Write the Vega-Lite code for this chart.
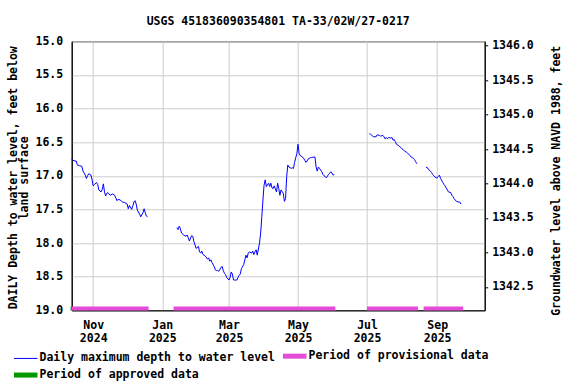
{
  "$schema": "https://vega.github.io/schema/vega-lite/v6.json",
  "width": 413,
  "height": 269,
  "autosize": {"type": "none"},
  "padding": {"left": 71.7, "top": 41.3, "right": 91.3, "bottom": 73.7},
  "background": "white",
  "title": {
    "text": "USGS 451836090354801 TA-33/02W/27-0217",
    "font": "DejaVu Sans Mono",
    "fontSize": 11.5,
    "fontWeight": "bold",
    "color": "black",
    "anchor": "middle",
    "offset": 8
  },
  "datasets": {
    "depth": [
      {"date": "2024-10-13", "depth": 16.745, "seg": 1},
      {"date": "2024-10-14", "depth": 16.77, "seg": 1},
      {"date": "2024-10-16", "depth": 16.78, "seg": 1},
      {"date": "2024-10-17", "depth": 16.78, "seg": 1},
      {"date": "2024-10-18", "depth": 16.84, "seg": 1},
      {"date": "2024-10-20", "depth": 16.85, "seg": 1},
      {"date": "2024-10-22", "depth": 16.86, "seg": 1},
      {"date": "2024-10-23", "depth": 16.93, "seg": 1},
      {"date": "2024-10-25", "depth": 16.99, "seg": 1},
      {"date": "2024-10-26", "depth": 17.04, "seg": 1},
      {"date": "2024-10-27", "depth": 17.0, "seg": 1},
      {"date": "2024-10-28", "depth": 16.97, "seg": 1},
      {"date": "2024-10-30", "depth": 16.99, "seg": 1},
      {"date": "2024-10-31", "depth": 17.06, "seg": 1},
      {"date": "2024-11-01", "depth": 17.15, "seg": 1},
      {"date": "2024-11-02", "depth": 17.13, "seg": 1},
      {"date": "2024-11-04", "depth": 17.1, "seg": 1},
      {"date": "2024-11-05", "depth": 17.13, "seg": 1},
      {"date": "2024-11-06", "depth": 17.21, "seg": 1},
      {"date": "2024-11-08", "depth": 17.24, "seg": 1},
      {"date": "2024-11-09", "depth": 17.2, "seg": 1},
      {"date": "2024-11-10", "depth": 17.12, "seg": 1},
      {"date": "2024-11-11", "depth": 17.24, "seg": 1},
      {"date": "2024-11-12", "depth": 17.3, "seg": 1},
      {"date": "2024-11-13", "depth": 17.26, "seg": 1},
      {"date": "2024-11-14", "depth": 17.25, "seg": 1},
      {"date": "2024-11-15", "depth": 17.27, "seg": 1},
      {"date": "2024-11-16", "depth": 17.29, "seg": 1},
      {"date": "2024-11-18", "depth": 17.27, "seg": 1},
      {"date": "2024-11-20", "depth": 17.29, "seg": 1},
      {"date": "2024-11-21", "depth": 17.33, "seg": 1},
      {"date": "2024-11-22", "depth": 17.37, "seg": 1},
      {"date": "2024-11-23", "depth": 17.35, "seg": 1},
      {"date": "2024-11-25", "depth": 17.36, "seg": 1},
      {"date": "2024-11-26", "depth": 17.38, "seg": 1},
      {"date": "2024-11-27", "depth": 17.39, "seg": 1},
      {"date": "2024-11-29", "depth": 17.4, "seg": 1},
      {"date": "2024-12-01", "depth": 17.42, "seg": 1},
      {"date": "2024-12-02", "depth": 17.49, "seg": 1},
      {"date": "2024-12-03", "depth": 17.44, "seg": 1},
      {"date": "2024-12-05", "depth": 17.5, "seg": 1},
      {"date": "2024-12-06", "depth": 17.45, "seg": 1},
      {"date": "2024-12-07", "depth": 17.39, "seg": 1},
      {"date": "2024-12-08", "depth": 17.37, "seg": 1},
      {"date": "2024-12-09", "depth": 17.42, "seg": 1},
      {"date": "2024-12-10", "depth": 17.51, "seg": 1},
      {"date": "2024-12-12", "depth": 17.57, "seg": 1},
      {"date": "2024-12-13", "depth": 17.61, "seg": 1},
      {"date": "2024-12-15", "depth": 17.55, "seg": 1},
      {"date": "2024-12-16", "depth": 17.49, "seg": 1},
      {"date": "2024-12-17", "depth": 17.55, "seg": 1},
      {"date": "2024-12-18", "depth": 17.6, "seg": 1},
      {"date": "2024-12-19", "depth": 17.61, "seg": 1},
      {"date": "2025-01-14", "depth": 17.77, "seg": 2},
      {"date": "2025-01-15", "depth": 17.8, "seg": 2},
      {"date": "2025-01-16", "depth": 17.75, "seg": 2},
      {"date": "2025-01-17", "depth": 17.78, "seg": 2},
      {"date": "2025-01-18", "depth": 17.85, "seg": 2},
      {"date": "2025-01-20", "depth": 17.88, "seg": 2},
      {"date": "2025-01-22", "depth": 17.9, "seg": 2},
      {"date": "2025-01-23", "depth": 17.88, "seg": 2},
      {"date": "2025-01-24", "depth": 17.92, "seg": 2},
      {"date": "2025-01-25", "depth": 17.97, "seg": 2},
      {"date": "2025-01-27", "depth": 17.89, "seg": 2},
      {"date": "2025-01-28", "depth": 17.9, "seg": 2},
      {"date": "2025-01-29", "depth": 17.98, "seg": 2},
      {"date": "2025-01-30", "depth": 18.03, "seg": 2},
      {"date": "2025-01-31", "depth": 18.08, "seg": 2},
      {"date": "2025-02-02", "depth": 18.05, "seg": 2},
      {"date": "2025-02-03", "depth": 18.13, "seg": 2},
      {"date": "2025-02-04", "depth": 18.15, "seg": 2},
      {"date": "2025-02-05", "depth": 18.12, "seg": 2},
      {"date": "2025-02-06", "depth": 18.17, "seg": 2},
      {"date": "2025-02-07", "depth": 18.18, "seg": 2},
      {"date": "2025-02-09", "depth": 18.21, "seg": 2},
      {"date": "2025-02-10", "depth": 18.24, "seg": 2},
      {"date": "2025-02-11", "depth": 18.22, "seg": 2},
      {"date": "2025-02-12", "depth": 18.27, "seg": 2},
      {"date": "2025-02-13", "depth": 18.25, "seg": 2},
      {"date": "2025-02-14", "depth": 18.29, "seg": 2},
      {"date": "2025-02-16", "depth": 18.35, "seg": 2},
      {"date": "2025-02-17", "depth": 18.4, "seg": 2},
      {"date": "2025-02-18", "depth": 18.41, "seg": 2},
      {"date": "2025-02-19", "depth": 18.41, "seg": 2},
      {"date": "2025-02-20", "depth": 18.42, "seg": 2},
      {"date": "2025-02-22", "depth": 18.36, "seg": 2},
      {"date": "2025-02-23", "depth": 18.35, "seg": 2},
      {"date": "2025-02-24", "depth": 18.41, "seg": 2},
      {"date": "2025-02-25", "depth": 18.45, "seg": 2},
      {"date": "2025-02-26", "depth": 18.47, "seg": 2},
      {"date": "2025-02-27", "depth": 18.51, "seg": 2},
      {"date": "2025-03-01", "depth": 18.55, "seg": 2},
      {"date": "2025-03-02", "depth": 18.51, "seg": 2},
      {"date": "2025-03-03", "depth": 18.43, "seg": 2},
      {"date": "2025-03-04", "depth": 18.46, "seg": 2},
      {"date": "2025-03-05", "depth": 18.55, "seg": 2},
      {"date": "2025-03-06", "depth": 18.55, "seg": 2},
      {"date": "2025-03-08", "depth": 18.55, "seg": 2},
      {"date": "2025-03-09", "depth": 18.51, "seg": 2},
      {"date": "2025-03-10", "depth": 18.48, "seg": 2},
      {"date": "2025-03-11", "depth": 18.46, "seg": 2},
      {"date": "2025-03-12", "depth": 18.38, "seg": 2},
      {"date": "2025-03-14", "depth": 18.32, "seg": 2},
      {"date": "2025-03-15", "depth": 18.25, "seg": 2},
      {"date": "2025-03-16", "depth": 18.18, "seg": 2},
      {"date": "2025-03-17", "depth": 18.22, "seg": 2},
      {"date": "2025-03-18", "depth": 18.15, "seg": 2},
      {"date": "2025-03-19", "depth": 18.13, "seg": 2},
      {"date": "2025-03-21", "depth": 18.15, "seg": 2},
      {"date": "2025-03-22", "depth": 18.12, "seg": 2},
      {"date": "2025-03-23", "depth": 18.17, "seg": 2},
      {"date": "2025-03-24", "depth": 18.13, "seg": 2},
      {"date": "2025-03-25", "depth": 18.1, "seg": 2},
      {"date": "2025-03-26", "depth": 18.18, "seg": 2},
      {"date": "2025-03-28", "depth": 18.0, "seg": 2},
      {"date": "2025-03-29", "depth": 17.85, "seg": 2},
      {"date": "2025-03-30", "depth": 17.62, "seg": 2},
      {"date": "2025-03-31", "depth": 17.36, "seg": 2},
      {"date": "2025-04-01", "depth": 17.14, "seg": 2},
      {"date": "2025-04-02", "depth": 17.06, "seg": 2},
      {"date": "2025-04-03", "depth": 17.16, "seg": 2},
      {"date": "2025-04-05", "depth": 17.11, "seg": 2},
      {"date": "2025-04-06", "depth": 17.16, "seg": 2},
      {"date": "2025-04-07", "depth": 17.11, "seg": 2},
      {"date": "2025-04-08", "depth": 17.18, "seg": 2},
      {"date": "2025-04-09", "depth": 17.19, "seg": 2},
      {"date": "2025-04-10", "depth": 17.15, "seg": 2},
      {"date": "2025-04-12", "depth": 17.24, "seg": 2},
      {"date": "2025-04-13", "depth": 17.11, "seg": 2},
      {"date": "2025-04-14", "depth": 17.19, "seg": 2},
      {"date": "2025-04-15", "depth": 17.29, "seg": 2},
      {"date": "2025-04-16", "depth": 17.21, "seg": 2},
      {"date": "2025-04-18", "depth": 17.26, "seg": 2},
      {"date": "2025-04-19", "depth": 17.38, "seg": 2},
      {"date": "2025-04-20", "depth": 17.34, "seg": 2},
      {"date": "2025-04-21", "depth": 17.01, "seg": 2},
      {"date": "2025-04-22", "depth": 16.84, "seg": 2},
      {"date": "2025-04-23", "depth": 16.87, "seg": 2},
      {"date": "2025-04-25", "depth": 16.89, "seg": 2},
      {"date": "2025-04-26", "depth": 16.88, "seg": 2},
      {"date": "2025-04-27", "depth": 16.89, "seg": 2},
      {"date": "2025-04-28", "depth": 16.8, "seg": 2},
      {"date": "2025-04-29", "depth": 16.73, "seg": 2},
      {"date": "2025-04-30", "depth": 16.67, "seg": 2},
      {"date": "2025-05-01", "depth": 16.53, "seg": 2},
      {"date": "2025-05-02", "depth": 16.67, "seg": 2},
      {"date": "2025-05-03", "depth": 16.7, "seg": 2},
      {"date": "2025-05-05", "depth": 16.72, "seg": 2},
      {"date": "2025-05-06", "depth": 16.74, "seg": 2},
      {"date": "2025-05-07", "depth": 16.77, "seg": 2},
      {"date": "2025-05-08", "depth": 16.8, "seg": 2},
      {"date": "2025-05-09", "depth": 16.78, "seg": 2},
      {"date": "2025-05-10", "depth": 16.75, "seg": 2},
      {"date": "2025-05-12", "depth": 16.73, "seg": 2},
      {"date": "2025-05-13", "depth": 16.73, "seg": 2},
      {"date": "2025-05-15", "depth": 16.72, "seg": 2},
      {"date": "2025-05-16", "depth": 16.72, "seg": 2},
      {"date": "2025-05-17", "depth": 16.87, "seg": 2},
      {"date": "2025-05-18", "depth": 16.93, "seg": 2},
      {"date": "2025-05-19", "depth": 16.87, "seg": 2},
      {"date": "2025-05-20", "depth": 16.89, "seg": 2},
      {"date": "2025-05-22", "depth": 16.94, "seg": 2},
      {"date": "2025-05-23", "depth": 16.98, "seg": 2},
      {"date": "2025-05-24", "depth": 17.0, "seg": 2},
      {"date": "2025-05-25", "depth": 17.01, "seg": 2},
      {"date": "2025-05-26", "depth": 17.03, "seg": 2},
      {"date": "2025-05-28", "depth": 16.98, "seg": 2},
      {"date": "2025-05-29", "depth": 16.96, "seg": 2},
      {"date": "2025-05-30", "depth": 16.94, "seg": 2},
      {"date": "2025-05-31", "depth": 16.96, "seg": 2},
      {"date": "2025-06-01", "depth": 16.99, "seg": 2},
      {"date": "2025-06-02", "depth": 16.98, "seg": 2},
      {"date": "2025-07-03", "depth": 16.375, "seg": 3},
      {"date": "2025-07-04", "depth": 16.38, "seg": 3},
      {"date": "2025-07-06", "depth": 16.41, "seg": 3},
      {"date": "2025-07-07", "depth": 16.42, "seg": 3},
      {"date": "2025-07-09", "depth": 16.42, "seg": 3},
      {"date": "2025-07-10", "depth": 16.39, "seg": 3},
      {"date": "2025-07-12", "depth": 16.4, "seg": 3},
      {"date": "2025-07-13", "depth": 16.41, "seg": 3},
      {"date": "2025-07-15", "depth": 16.4, "seg": 3},
      {"date": "2025-07-16", "depth": 16.42, "seg": 3},
      {"date": "2025-07-17", "depth": 16.45, "seg": 3},
      {"date": "2025-07-18", "depth": 16.43, "seg": 3},
      {"date": "2025-07-19", "depth": 16.45, "seg": 3},
      {"date": "2025-07-20", "depth": 16.43, "seg": 3},
      {"date": "2025-07-22", "depth": 16.44, "seg": 3},
      {"date": "2025-07-23", "depth": 16.43, "seg": 3},
      {"date": "2025-07-24", "depth": 16.47, "seg": 3},
      {"date": "2025-07-25", "depth": 16.46, "seg": 3},
      {"date": "2025-07-26", "depth": 16.49, "seg": 3},
      {"date": "2025-07-27", "depth": 16.53, "seg": 3},
      {"date": "2025-07-29", "depth": 16.55, "seg": 3},
      {"date": "2025-07-30", "depth": 16.57, "seg": 3},
      {"date": "2025-07-31", "depth": 16.58, "seg": 3},
      {"date": "2025-08-01", "depth": 16.6, "seg": 3},
      {"date": "2025-08-02", "depth": 16.61, "seg": 3},
      {"date": "2025-08-03", "depth": 16.63, "seg": 3},
      {"date": "2025-08-05", "depth": 16.65, "seg": 3},
      {"date": "2025-08-06", "depth": 16.67, "seg": 3},
      {"date": "2025-08-07", "depth": 16.68, "seg": 3},
      {"date": "2025-08-08", "depth": 16.7, "seg": 3},
      {"date": "2025-08-09", "depth": 16.72, "seg": 3},
      {"date": "2025-08-11", "depth": 16.74, "seg": 3},
      {"date": "2025-08-12", "depth": 16.76, "seg": 3},
      {"date": "2025-08-13", "depth": 16.79, "seg": 3},
      {"date": "2025-08-14", "depth": 16.82, "seg": 3},
      {"date": "2025-08-22", "depth": 16.87, "seg": 4},
      {"date": "2025-08-24", "depth": 16.89, "seg": 4},
      {"date": "2025-08-25", "depth": 16.92, "seg": 4},
      {"date": "2025-08-26", "depth": 16.93, "seg": 4},
      {"date": "2025-08-27", "depth": 16.95, "seg": 4},
      {"date": "2025-08-28", "depth": 16.98, "seg": 4},
      {"date": "2025-08-29", "depth": 17.0, "seg": 4},
      {"date": "2025-08-31", "depth": 17.03, "seg": 4},
      {"date": "2025-09-01", "depth": 17.03, "seg": 4},
      {"date": "2025-09-02", "depth": 17.01, "seg": 4},
      {"date": "2025-09-03", "depth": 16.99, "seg": 4},
      {"date": "2025-09-04", "depth": 17.04, "seg": 4},
      {"date": "2025-09-06", "depth": 17.1, "seg": 4},
      {"date": "2025-09-07", "depth": 17.13, "seg": 4},
      {"date": "2025-09-08", "depth": 17.15, "seg": 4},
      {"date": "2025-09-09", "depth": 17.18, "seg": 4},
      {"date": "2025-09-10", "depth": 17.21, "seg": 4},
      {"date": "2025-09-11", "depth": 17.24, "seg": 4},
      {"date": "2025-09-13", "depth": 17.25, "seg": 4},
      {"date": "2025-09-14", "depth": 17.29, "seg": 4},
      {"date": "2025-09-15", "depth": 17.31, "seg": 4},
      {"date": "2025-09-16", "depth": 17.34, "seg": 4},
      {"date": "2025-09-17", "depth": 17.36, "seg": 4},
      {"date": "2025-09-18", "depth": 17.38, "seg": 4},
      {"date": "2025-09-20", "depth": 17.39, "seg": 4},
      {"date": "2025-09-21", "depth": 17.39, "seg": 4},
      {"date": "2025-09-22", "depth": 17.42, "seg": 4}
    ],
    "periods": [
      {"start": "2024-10-12", "end": "2024-10-13", "status": "Period of approved data"},
      {"start": "2024-10-13", "end": "2024-12-20", "status": "Period of provisional data"},
      {"start": "2025-01-11", "end": "2025-06-03", "status": "Period of provisional data"},
      {"start": "2025-07-01", "end": "2025-08-15", "status": "Period of provisional data"},
      {"start": "2025-08-20", "end": "2025-09-24", "status": "Period of provisional data"}
    ],
    "elev": [
      {"elev": 1342.16},
      {"elev": 1346.064}
    ]
  },
  "layer": [
    {
      "layer": [
        {
          "data": {"name": "depth"},
          "mark": {"type": "line", "strokeWidth": 1, "interpolate": "linear", "color": "#0000ff"},
          "encoding": {
            "x": {
              "field": "date",
              "type": "temporal",
              "scale": {
                "type": "utc",
                "domain": [
                  {"year": 2024, "month": 10, "date": 13, "utc": true},
                  {"year": 2025, "month": 10, "date": 13, "utc": true}
                ]
              },
              "axis": {
                "title": null,
                "values": [
                  {"year": 2024, "month": 11, "date": 1, "utc": true},
                  {"year": 2025, "month": 1, "date": 1, "utc": true},
                  {"year": 2025, "month": 3, "date": 1, "utc": true},
                  {"year": 2025, "month": 5, "date": 1, "utc": true},
                  {"year": 2025, "month": 7, "date": 1, "utc": true},
                  {"year": 2025, "month": 9, "date": 1, "utc": true}
                ],
                "labelExpr": "[utcFormat(datum.value, '%b'), utcFormat(datum.value, '%Y')]",
                "labelAngle": 0,
                "labelAlign": "center",
                "labelBaseline": "top",
                "labelLineHeight": 13.5,
                "labelPadding": 9,
                "ticks": false,
                "grid": true
              }
            },
            "y": {
              "field": "depth",
              "type": "quantitative",
              "scale": {"domain": [15, 19], "reverse": true, "nice": false, "zero": false},
              "axis": {
                "values": [15, 15.5, 16, 16.5, 17, 17.5, 18, 18.5, 19],
                "format": ".1f",
                "labelOverlap": false,
                "grid": true,
                "ticks": false,
                "labelPadding": 9,
                "title": ["DAILY Depth to water level, feet below", "land surface"],
                "titleAngle": -90,
                "titleX": -58.5,
                "titleY": 136,
                "titleAlign": "center",
                "titleBaseline": "middle",
                "titleLineHeight": 11
              }
            },
            "detail": {"field": "seg", "type": "nominal"}
          }
        },
        {
          "data": {"name": "periods"},
          "mark": {"type": "rule", "strokeWidth": 4},
          "encoding": {
            "x": {"field": "start", "type": "temporal"},
            "x2": {"field": "end"},
            "y": {
              "datum": 18.975,
              "type": "quantitative",
              "axis": {
                "values": [15, 15.5, 16, 16.5, 17, 17.5, 18, 18.5, 19],
                "format": ".1f",
                "labelOverlap": false,
                "grid": true,
                "ticks": false,
                "labelPadding": 9,
                "title": ["DAILY Depth to water level, feet below", "land surface"],
                "titleAngle": -90,
                "titleX": -58.5,
                "titleY": 136,
                "titleAlign": "center",
                "titleBaseline": "middle",
                "titleLineHeight": 11
              }
            },
            "color": {
              "field": "status",
              "type": "nominal",
              "scale": {
                "domain": ["Daily maximum depth to water level", "Period of provisional data", "Period of approved data"],
                "range": ["#0000ff", "#e64bd8", "#009900"]
              },
              "legend": {
                "title": null,
                "orient": "none",
                "direction": "horizontal",
                "legendX": -51.7,
                "legendY": 309,
                "columns": 2,
                "columnPadding": -2,
                "rowPadding": -2,
                "symbolType": "stroke",
                "symbolSize": 550,
                "symbolStrokeWidth": 4,
                "labelFont": "DejaVu Sans Mono",
                "labelFontSize": 11.5,
                "labelFontWeight": "bold",
                "labelColor": "black",
                "labelLimit": 400,
                "labelOffset": 8,
                "encode": {
                  "symbols": {
                    "update": {
                      "strokeWidth": {"signal": "datum.value === 'Daily maximum depth to water level' ? 1 : 5"}
                    }
                  }
                }
              }
            }
          }
        }
      ]
    },
    {
      "data": {"name": "elev"},
      "mark": {"type": "point", "opacity": 0},
      "encoding": {
        "y": {
          "field": "elev",
          "type": "quantitative",
          "scale": {"domain": [1342.16, 1346.064], "nice": false, "zero": false},
          "axis": {
            "orient": "right",
            "values": [1342.5, 1343, 1343.5, 1344, 1344.5, 1345, 1345.5, 1346],
            "format": ".1f",
            "labelOverlap": false,
            "grid": false,
            "tickSize": 3,
            "labelPadding": 4,
            "title": "Groundwater level above NAVD 1988, feet",
            "titleAngle": -90,
            "titleX": 72,
            "titleY": 139,
            "titleAlign": "center",
            "titleBaseline": "middle"
          }
        }
      }
    }
  ],
  "resolve": {"scale": {"y": "independent"}},
  "config": {
    "view": {"stroke": "black", "strokeWidth": 1},
    "axis": {
      "labelFont": "DejaVu Sans Mono",
      "labelFontSize": 11.5,
      "labelFontWeight": "bold",
      "labelColor": "black",
      "titleFont": "DejaVu Sans Mono",
      "titleFontSize": 11.5,
      "titleFontWeight": "bold",
      "titleColor": "black",
      "domainColor": "black",
      "tickColor": "black",
      "gridColor": "#cccccc",
      "gridWidth": 1
    }
  }
}
